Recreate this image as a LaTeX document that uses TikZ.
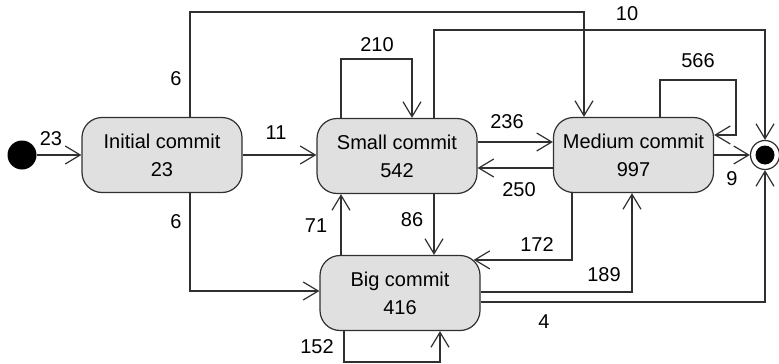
\documentclass[tikz,border=0pt]{standalone}
\usepackage{fontspec}
\setmainfont{Liberation Sans}
\usetikzlibrary{arrows.meta,calc}
\definecolor{statefill}{HTML}{E0E0E0}
\definecolor{ink}{HTML}{303030}

\begin{document}
\begin{tikzpicture}[x=1pt,y=-1pt,
  state/.style={draw=ink, fill=statefill, line width=1.2pt, rounded corners=20pt,
    minimum width=160pt, minimum height=75pt, inner sep=0pt, align=center,
    font=\fontsize{20}{28}\selectfont},
  flow/.style={draw=ink, line width=1.2pt, -{Straight Barb[length=15pt,width=18pt]}},
  lbl/.style={font=\fontsize{20}{24}\selectfont, inner sep=0pt},
]
\useasboundingbox (0,0) rectangle (779,364);

% states
\node[circle, fill=black, minimum size=29pt, inner sep=0pt] (start) at (22,155) {};
\node[state] (ic) at (162,155) {Initial commit\\23};
\node[state] (sc) at (397,156) {Small commit\\542};
\node[state] (mc) at (633.5,155) {Medium commit\\997};
\node[state] (bc) at (400,293) {Big commit\\416};
\node[circle, draw=ink, fill=white, line width=1.2pt, minimum size=29pt, inner sep=0pt] (end) at (765,155) {};
\fill[black] (end.center) circle (9.5pt);

% transitions
\draw[flow] (start) -- (ic);
\draw[flow] (ic.east) -- (ic.east -| sc.west);
\draw[flow] (ic.north -| 190,0) |- (584,12) -- (mc.north -| 584,0);
\draw[flow] (ic.south -| 190,0) |- (bc.west |- 0,291);
\draw[flow] (sc.north -| 341,0) |- (412,59) -- (sc.north -| 412,0);
\draw[flow] (sc.north -| 434,0) |- (765,30) -- (end.north);
\draw[flow] (sc.east |- 0,142) -- (mc.west |- 0,142);
\draw[flow] (mc.west |- 0,168) -- (sc.east |- 0,168);
\draw[flow] (sc.south -| 434,0) -- (bc.north -| 434,0);
\draw[flow] (bc.north -| 341,0) -- (sc.south -| 341,0);
\draw[flow] (mc.south -| 572,0) |- ($(bc.north east)+(-7,5)$);
\draw[flow] (bc.east |- 0,292) -| (mc.south -| 632,0);
\draw[flow] (bc.east |- 0,302) -| (end.south);
\draw[flow] (bc.south -| 344,0) |- (440,362) -- (bc.south -| 440,0);
\draw[flow] (mc.north -| 660,0) |- (736,80) |- (mc.east |- 0,135);
\draw[flow] (mc.east) -- (end);

% transition counts
\node[lbl] (n23) at (51,139) {23};
\node[lbl] (n11) at (276,133) {11};
\node[lbl] (n6a) at (176,79) {6};
\node[lbl] (n6b) at (176,222) {6};
\node[lbl] (n210) at (377,45) {210};
\node[lbl] (n10) at (627,14) {10};
\node[lbl] (n236) at (507,122) {236};
\node[lbl] (n250) at (519,190) {250};
\node[lbl] (n566) at (698,61) {566};
\node[lbl] (n9) at (732,179) {9};
\node[lbl] (n71) at (316,226) {71};
\node[lbl] (n86) at (412,220) {86};
\node[lbl] (n172) at (537,245) {172};
\node[lbl] (n189) at (604,275) {189};
\node[lbl] (n4) at (544,322) {4};
\node[lbl] (n152) at (317,347) {152};
\end{tikzpicture}
\end{document}
